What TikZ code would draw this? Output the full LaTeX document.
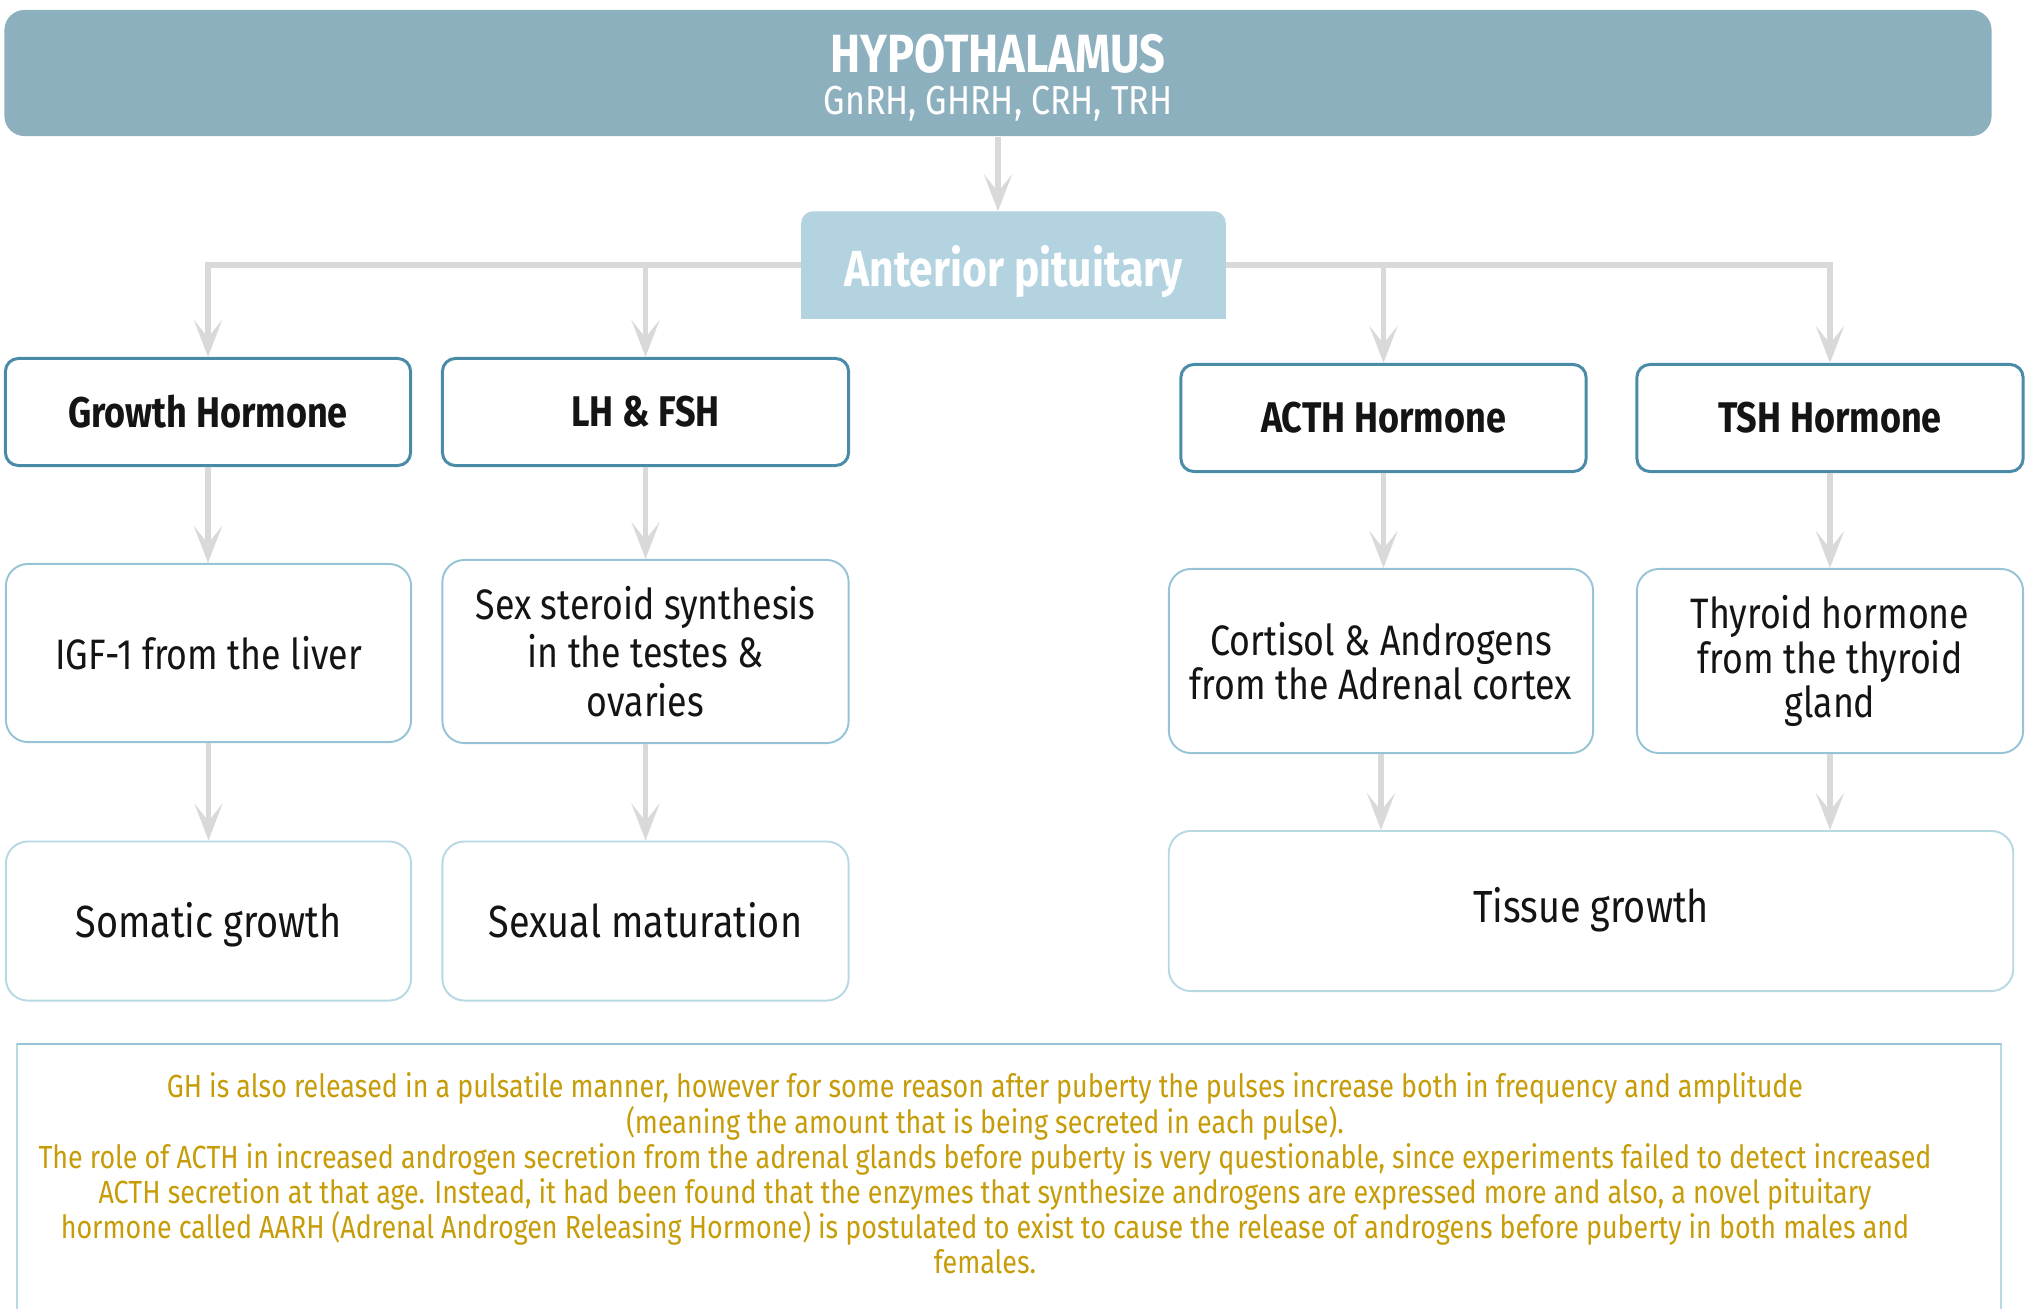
\documentclass[tikz,border=0pt]{standalone}
\usepackage{fontspec}
\setmainfont{Fira Sans}[FakeStretch=0.84]
\usetikzlibrary{arrows.meta,backgrounds}
\definecolor{hypcol}{RGB}{141,176,191}
\definecolor{apcol}{RGB}{179,211,224}
\definecolor{darkb}{RGB}{74,140,168}
\definecolor{midb}{RGB}{150,196,214}
\definecolor{lightb}{RGB}{184,216,228}
\definecolor{arrgrey}{RGB}{217,217,217}
\definecolor{gold}{RGB}{198,156,8}
\definecolor{txt}{RGB}{20,20,20}
\tikzset{
  arr/.style={draw=arrgrey, line width=1.7pt, -{Stealth[length=10.5pt,width=8pt,inset=5pt]}},
  hbox/.style={draw=darkb, line width=0.85pt, rounded corners=0.13cm, fill=white, text=txt,
     font=\fontsize{12.2}{14}\selectfont\bfseries, align=center, inner sep=0pt},
  mbox/.style={draw=midb, line width=0.55pt, rounded corners=0.22cm, fill=white, text=txt,
     font=\fontsize{12.1}{12.6}\selectfont, align=center, inner sep=0pt},
  lbox/.style={draw=lightb, line width=0.55pt, rounded corners=0.22cm, fill=white, text=txt,
     font=\fontsize{12.8}{14}\selectfont, align=center, inner sep=0pt,
     text height=9pt, text depth=2.5pt},
}
\begin{document}
\begin{tikzpicture}[x=0.01cm,y=-0.01cm]
\useasboundingbox (0,0) rectangle (2038,1308);
% Hypothalamus
\node[fill=hypcol, rounded corners=0.2cm, minimum width=19.86cm, minimum height=1.26cm, inner sep=0pt] (hyp) at (998,73) {};
\node[text=white, align=center, inner sep=0pt] (hyptext) at ([yshift=-1.4pt]hyp.center)
  {{\fontsize{15.3}{17}\selectfont\bfseries HYPOTHALAMUS}\\[0pt]{\fontsize{11.5}{13}\selectfont GnRH, GHRH, CRH, TRH}};
% Anterior pituitary
\node[minimum width=4.23cm, minimum height=1.06cm, inner sep=0pt] (ap) at (1013.5,265) {};
\begin{scope}[on background layer]
  \fill[apcol, rounded corners=0.12cm] (ap.south west) rectangle (ap.north east);
  \fill[apcol] (ap.west) rectangle (ap.south east);
\end{scope}
\node[text=white, inner sep=0pt, font=\fontsize{14.4}{16}\selectfont\bfseries] (aptext) at ([yshift=-2pt]ap.center) {Anterior pituitary};
% Row 1
\node[hbox, minimum width=4.05cm, minimum height=1.07cm] (gh) at (208,412) {Growth Hormone};
\node[hbox, minimum width=4.06cm, minimum height=1.07cm] (lh) at (645.5,412) {LH \& FSH};
\node[hbox, minimum width=4.05cm, minimum height=1.07cm] (acth) at (1383.5,418) {ACTH Hormone};
\node[hbox, minimum width=3.86cm, minimum height=1.07cm] (tsh) at (1830,418) {TSH Hormone};
% Row 2
\node[mbox, minimum width=4.05cm, minimum height=1.78cm] (igf) at (208.5,653) {IGF-1 from the liver};
\node[mbox, minimum width=4.06cm, minimum height=1.83cm, font=\fontsize{12.1}{13.7}\selectfont] (sex) at (645.5,651.5)
  {Sex steroid synthesis\\in the testes \&\\ovaries};
\node[mbox, minimum width=4.24cm, minimum height=1.84cm] (cort) at (1381,661)
  {Cortisol \& Androgens\\from the Adrenal cortex};
\node[mbox, minimum width=3.86cm, minimum height=1.84cm] (thy) at (1830,661)
  {Thyroid hormone\\from the thyroid\\gland};
% Row 3
\node[lbox, minimum width=4.05cm, minimum height=1.59cm, text height=12pt] (som) at (208.5,921) {Somatic growth};
\node[lbox, minimum width=4.06cm, minimum height=1.59cm, text height=12pt] (sexm) at (645.5,921) {Sexual maturation};
\node[lbox, minimum width=8.44cm, minimum height=1.60cm] (tis) at (1591,911) {Tissue growth};
% Connectors
\draw[arr] (hyp.south) -- (hyp.south |- ap.north);
\draw[arr] (ap.west) -| (gh.north);
\draw[arr] (ap.west) -| (lh.north);
\draw[arr] (ap.east) -| (acth.north);
\draw[arr] (ap.east) -| (tsh.north);
\draw[arr] (gh.south) -- (gh.south |- igf.north);
\draw[arr] (lh.south) -- (lh.south |- sex.north);
\draw[arr] (acth.south) -- (acth.south |- cort.north);
\draw[arr] (tsh.south) -- (tsh.south |- thy.north);
\draw[arr] (igf.south) -- (igf.south |- som.north);
\draw[arr] (sex.south) -- (sex.south |- sexm.north);
\draw[arr] (cort.south) -- (cort.south |- tis.north);
\draw[arr] (thy.south) -- (thy.south |- tis.north);
% Note box
\coordinate (nbl) at (17,1360);
\coordinate (ntr) at (2001,1044);
\draw[lightb, line width=0.6pt] (nbl) rectangle (ntr);
\draw[midb, line width=0.8pt] (nbl |- ntr) -- (ntr);
\node[text=gold, align=center, font=\fontsize{9.1}{10}\selectfont] (note) at (985,1173.5)
 {GH is also released in a pulsatile manner, however for some reason after puberty the pulses increase both in frequency and amplitude\\
 (meaning the amount that is being secreted in each pulse).\\
 The role of ACTH in increased androgen secretion from the adrenal glands before puberty is very questionable, since experiments failed to detect increased\\
 ACTH secretion at that age. Instead, it had been found that the enzymes that synthesize androgens are expressed more and also, a novel pituitary\\
 hormone called AARH (Adrenal Androgen Releasing Hormone) is postulated to exist to cause the release of androgens before puberty in both males and\\
 females.};
\end{tikzpicture}
\end{document}
